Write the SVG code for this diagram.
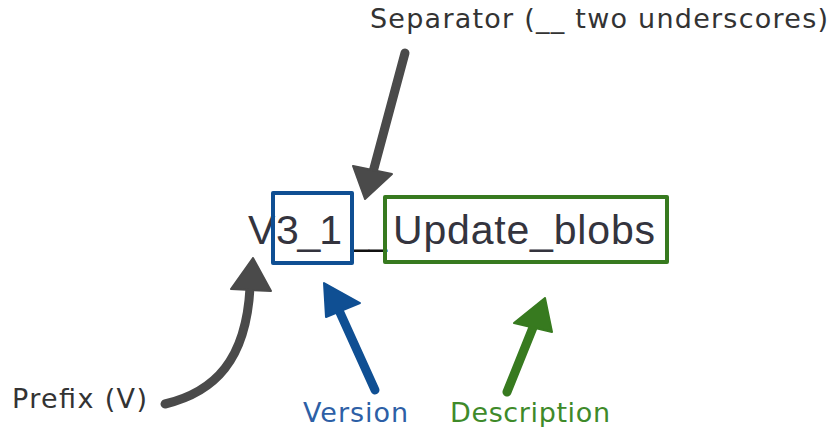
<svg xmlns="http://www.w3.org/2000/svg" width="835" height="427" viewBox="0 0 835 427">
  <style>
    .label { font-family: "DejaVu Sans", "Liberation Sans", sans-serif; font-size: 27px; fill: #333333; }
    .name { font-family: "Liberation Sans", Arial, sans-serif; font-size: 41px; fill: #34343e; }
    .box { fill: none; stroke-width: 4; stroke-linejoin: round; }
    .shaft { fill: none; stroke-width: 9; stroke-linecap: round; }
    .gray { stroke: #4a4a4a; }
    .grayhead { fill: #4a4a4a; stroke: #4a4a4a; stroke-width: 2; stroke-linejoin: round; }
    .blue { stroke: #0f4f93; }
    .bluehead { fill: #0f4f93; stroke: #0f4f93; stroke-width: 2; stroke-linejoin: round; }
    .green { stroke: #377a1f; }
    .greenhead { fill: #377a1f; stroke: #377a1f; stroke-width: 2; stroke-linejoin: round; }
  </style>
  <rect width="835" height="427" fill="#ffffff"/>

  <!-- migration file name: prefix, version, separator, description -->
  <g id="filename">
    <text class="name" y="244"><tspan x="248">V</tspan><tspan x="276" textLength="66" lengthAdjust="spacing">3_1</tspan><tspan x="351" textLength="36" lengthAdjust="spacingAndGlyphs" style="fill:#111111">__</tspan><tspan x="393" textLength="262" lengthAdjust="spacing">Update_blobs</tspan></text>
  </g>
  <g id="version-box">
    <rect class="box" x="273" y="193" width="79" height="70" stroke="#0f4f93"/>
  </g>
  <g id="description-box">
    <rect class="box" x="385" y="197" width="282" height="65" stroke="#377a1f"/>
  </g>

  <!-- callout labels -->
  <g id="separator-label">
    <text class="label" x="370" y="28" textLength="458" lengthAdjust="spacing">Separator (__ two underscores)</text>
  </g>
  <g id="prefix-label">
    <text class="label" x="12" y="408" textLength="135" lengthAdjust="spacing">Prefix (V)</text>
  </g>
  <g id="version-label">
    <text class="label" x="303" y="422" textLength="105" lengthAdjust="spacing" style="fill:#2d5fa6">Version</text>
  </g>
  <g id="description-label">
    <text class="label" x="450" y="422" textLength="160" lengthAdjust="spacing" style="fill:#3e8a2a">Description</text>
  </g>

  <!-- arrows -->
  <g id="connectors">
    <path class="shaft gray" d="M405,53 L373,172"/>
    <polygon class="grayhead" points="365,199 353,166 392,174"/>

    <path class="shaft gray" d="M165,404 C215,392 246,360 250,288"/>
    <polygon class="grayhead" points="253,258 231,289 271,291"/>

    <path class="shaft blue" d="M375,390 L337,306"/>
    <polygon class="bluehead" points="324,283 326,317 360,303"/>

    <path class="shaft green" d="M507,392 L536,320"/>
    <polygon class="greenhead" points="545,298 514,323 552,332"/>
  </g>
</svg>
